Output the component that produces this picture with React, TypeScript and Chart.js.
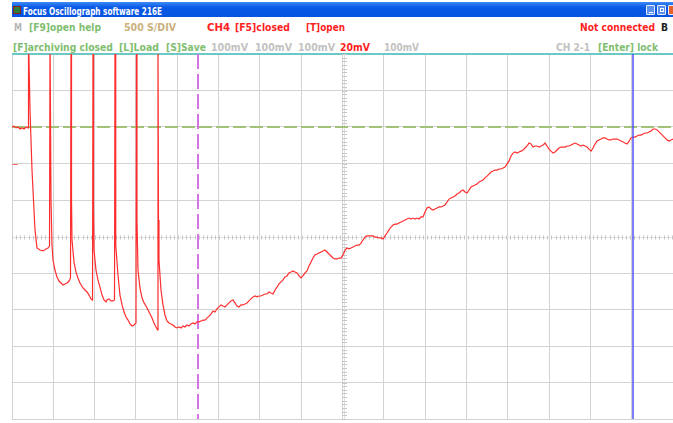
import { useEffect, useRef } from "react";
import { Chart, registerables } from "chart.js";

Chart.register(...registerables);

// ---- scope settings ----
const SAMPLES_PER_DIV = 500; // "500 S/DIV"
const MV_PER_DIV = 20; // "20mV"
const X_MAX = 7964; // visible part of the 16-div record
const Y_MIN = -100;
const Y_MAX = 100;

// ---- trace: burst of spikes (sample index, mV) ----
const burstX = [
  0, 24, 48, 72, 96, 120, 145, 169, 193,
  199, 217, 241, 277, 301, 337, 374, 410, 434, 452,
  458, 470, 482, 494, 518, 542, 566, 590, 615, 639, 663, 687, 705,
  711, 717, 723, 747, 771, 795, 819, 856, 880, 904, 928, 952, 970,
  976, 982, 988, 1012, 1036, 1060, 1085, 1109, 1133, 1145, 1169, 1193, 1217, 1235,
  1241, 1247, 1253, 1277, 1301, 1326, 1350, 1374, 1398, 1422, 1446, 1470, 1494,
  1500, 1506, 1518, 1542, 1567, 1591, 1615, 1639, 1663, 1687, 1711, 1735, 1753,
  1759, 1765, 1771,
];
const burstMv = [
  60.0, 60.5, 59.5, 60.0, 58.9, 59.5, 58.9, 60.0, 59.5,
  110, 69.3, 36.4, 3.6, -6.3, -7.4, -7.9, -6.8, -6.3, -5.2,
  110, 20.0, -4.7, -12.9, -18.4, -22.2, -24.4, -25.5, -26.6, -26.0, -25.5, -24.4, -22.7,
  110, 20.0, -1.9, -14.0, -19.5, -22.7, -25.5, -28.2, -29.3, -30.4, -32.1, -34.2, -34.8,
  110, 14.5, -7.4, -18.4, -23.8, -27.7, -32.1, -34.8, -35.9, -34.8, -34.2, -35.3, -35.3, -34.8,
  110, 14.5, -4.7, -21.1, -32.1, -37.5, -41.4, -44.1, -45.8, -47.9, -49.0, -48.5, -47.4,
  110, 9.0, -18.4, -28.2, -33.7, -36.4, -38.1, -40.3, -42.5, -44.7, -47.4, -49.6, -51.2,
  110, 9.0, -12.9,
];

// ---- trace: slow recovery, uniformly sampled ----
const RAMP_START = 1795;
const RAMP_STEP = 24.1;
const rampMv = [
  -29.3, -37.5, -43.0, -46.3, -47.4, -47.9, -48.5, -49.6, -50.1, -49.6,
  -50.1, -49.0, -49.6, -48.5, -49.0, -47.9, -47.4, -47.9, -46.8, -46.8,
  -46.3, -45.8, -45.8, -44.7, -43.6, -42.5, -40.8, -41.4, -39.7, -38.6,
  -37.5, -38.1, -38.6, -37.5, -36.4, -35.3, -34.8, -36.4, -38.1, -38.6,
  -37.5, -37.5, -37.0, -36.4, -35.3, -34.2, -33.1, -32.6, -33.1, -32.6,
  -32.6, -32.1, -31.5, -31.5, -30.4, -31.0, -31.5, -29.3, -27.7, -26.0,
  -24.9, -23.8, -22.2, -21.6, -20.0, -19.5, -18.9, -19.5, -20.0, -21.6,
  -22.7, -21.6, -20.0, -18.9, -16.2, -14.0, -11.8, -10.1, -9.6, -9.0,
  -8.5, -7.9, -7.4, -8.5, -9.6, -10.7, -11.8, -12.3, -12.3, -11.8,
  -11.8, -10.1, -7.4, -6.3, -6.8, -6.3, -5.8, -5.2, -4.7, -4.7,
  -3.6, -1.9, -0.3, 0.3, 0.3, 0.3, 0.3, -0.3, -0.3, -0.8,
  -0.8, -1.4, 0.3, 1.9, 3.6, 5.2, 6.3, 6.8, 6.8, 7.4,
  7.9, 8.5, 9.0, 9.6, 10.1, 9.6, 10.1, 9.6, 10.1, 9.6,
  10.7, 10.7, 13.4, 15.6, 16.2, 15.1, 14.5, 15.1, 15.6, 16.2,
  16.2, 16.7, 17.3, 18.9, 20.5, 21.1, 21.6, 22.2, 23.3, 23.8,
  24.9, 25.5, 24.4, 23.8, 25.5, 27.1, 27.7, 28.2, 28.8, 29.9,
  30.4, 31.0, 32.1, 33.1, 34.2, 35.3, 35.9, 36.4, 36.4, 37.0,
  37.0, 37.5, 38.1, 39.7, 41.4, 44.1, 45.7, 46.3, 45.7, 46.3,
  46.8, 47.4, 48.5, 49.6, 51.2, 50.7, 49.0, 49.6, 49.6, 49.0,
  49.6, 50.1, 51.2, 49.6, 47.9, 46.8, 45.7, 46.3, 47.4, 48.5,
  49.0, 49.0, 49.0, 49.6, 49.6, 50.1, 50.7, 51.2, 50.7, 50.1,
  49.6, 50.1, 49.6, 49.0, 47.9, 46.8, 48.5, 50.7, 52.3, 52.9,
  53.4, 54.0, 54.0, 53.4, 52.9, 52.9, 53.4, 53.4, 53.4, 52.9,
  52.3, 51.8, 51.2, 50.7, 52.3, 54.0, 54.5, 54.5, 55.1, 55.6,
  55.6, 56.2, 56.7, 56.7, 57.3, 57.8, 58.9, 58.9, 58.4, 57.3,
  56.2, 55.1, 54.0, 52.9, 52.3, 52.9, 53.4,
];

// ---- markers ----
const TRIGGER_MV = 60;
const CH_MARKER_MV = 40;
const CURSOR_A = 2241;
const CURSOR_B = 7482;

// ---- texts ----
const TITLE = "Focus Oscillograph software 216E";
const row1Labels = ["M", "[F9]open help", "500 S/DIV", "CH4", "[F5]closed", "[T]open", "Not connected", "B"];
const row2Labels = ["[F]archiving closed", "[L]Load", "[S]Save", "100mV", "100mV", "100mV", "20mV", "100mV", "CH 2-1", "[Enter] lock"];

const GREEN = "#7fbe70";
const TAN = "#c9b17a";
const RED = "#ff1e1e";
const GRAY = "#c2c2c2";

// layout: [x, targetWidth, color]
const row1Layout: [number, number, string][] = [
  [14, 8, "#b5b5b5"], [29, 72, GREEN], [124, 52, TAN], [207, 23, RED],
  [235, 55, RED], [306, 39, RED], [580, 75, RED], [661, 7, "#202020"],
];
const row2Layout: [number, number, string][] = [
  [13, 100, GREEN], [119, 40, GREEN], [166, 40, GREEN], [211, 37, GRAY],
  [255, 37, GRAY], [298, 37, GRAY], [340, 30, RED], [384, 35, GRAY],
  [556, 34, GRAY], [598, 60, GREEN],
];

let measureCtx: CanvasRenderingContext2D | null = null;
function measure(text: string, font: string) {
  if (!measureCtx) measureCtx = document.createElement("canvas").getContext("2d");
  measureCtx!.font = font;
  return measureCtx!.measureText(text).width;
}

function FitText(props: { text: string; x: number; baseline: number; width: number; size: number; color: string; weight?: string }) {
  const { text, x, baseline, width, size, color } = props;
  const weight = props.weight ?? "bold";
  const family = '"DejaVu Sans", "Liberation Sans", Arial, sans-serif';
  const font = `${weight} ${size}px ${family}`;
  const natural = measure(text, font) || width;
  const sx = width / natural;
  return (
    <span
      style={{
        position: "absolute",
        left: x,
        top: baseline - 0.846 * size,
        font,
        lineHeight: `${size}px`,
        whiteSpace: "nowrap",
        color,
        transform: `scaleX(${sx})`,
        transformOrigin: "left top",
      }}
    >
      {text}
    </span>
  );
}

export default function App() {
  const canvasRef = useRef<HTMLCanvasElement | null>(null);

  useEffect(() => {
    const canvas = canvasRef.current;
    if (!canvas) return;

    const points: { x: number; y: number }[] = [];
    burstX.forEach((x, i) => points.push({ x, y: burstMv[i] }));
    rampMv.forEach((y, i) => points.push({ x: RAMP_START + i * RAMP_STEP, y }));

    const overlay = {
      id: "scopeOverlay",
      beforeDatasetsDraw(chart: any) {
        const { ctx, chartArea: a, scales } = chart;
        const xs = scales.x;
        const ys = scales.y;
        ctx.save();
        const cy = Math.round(ys.getPixelForValue(0)) + 0.5;
        const cx = Math.round(xs.getPixelForValue(SAMPLES_PER_DIV * 8)) + 0.5;
        ctx.lineWidth = 1;
        ctx.strokeStyle = "#e2e2e2";
        ctx.beginPath();
        ctx.moveTo(a.left, cy);
        ctx.lineTo(a.right, cy);
        ctx.moveTo(cx, a.top);
        ctx.lineTo(cx, a.bottom);
        ctx.stroke();
        ctx.strokeStyle = "#c6c6c6";
        ctx.beginPath();
        for (let v = 0; v <= X_MAX; v += SAMPLES_PER_DIV / 10) {
          const px = Math.round(xs.getPixelForValue(v)) + 0.5;
          ctx.moveTo(px, cy - 2);
          ctx.lineTo(px, cy + 2);
        }
        for (let v = Y_MIN; v <= Y_MAX; v += MV_PER_DIV / 10) {
          const py = Math.round(ys.getPixelForValue(v)) + 0.5;
          ctx.moveTo(cx - 2.5, py);
          ctx.lineTo(cx + 2.5, py);
        }
        ctx.stroke();

        // trigger level
        const ty = ys.getPixelForValue(TRIGGER_MV);
        ctx.strokeStyle = "#a2c277";
        ctx.lineWidth = 2;
        ctx.setLineDash([13, 4]);
        ctx.beginPath();
        ctx.moveTo(a.left, ty);
        ctx.lineTo(a.right, ty);
        ctx.stroke();

        // cursor A
        const ax = xs.getPixelForValue(CURSOR_A);
        ctx.strokeStyle = "#d374e4";
        ctx.setLineDash([15, 5]);
        ctx.beginPath();
        ctx.moveTo(ax, a.top);
        ctx.lineTo(ax, a.bottom);
        ctx.stroke();
        ctx.setLineDash([]);

        // channel marker
        const my = Math.round(ys.getPixelForValue(CH_MARKER_MV)) + 0.5;
        ctx.strokeStyle = "#ff6a6a";
        ctx.lineWidth = 1;
        ctx.beginPath();
        ctx.moveTo(a.left, my);
        ctx.lineTo(a.left + 6, my);
        ctx.stroke();
        ctx.restore();
      },
      afterDatasetsDraw(chart: any) {
        const { ctx, chartArea: a, scales } = chart;
        const bx = scales.x.getPixelForValue(CURSOR_B);
        ctx.save();
        ctx.strokeStyle = "#4848ff";
        ctx.lineWidth = 1.4;
        ctx.beginPath();
        ctx.moveTo(bx, a.top);
        ctx.lineTo(bx, a.bottom);
        ctx.stroke();
        ctx.restore();
      },
    };

    const chart = new Chart(canvas, {
      type: "line",
      data: {
        datasets: [
          {
            data: points,
            borderColor: "#ff2e2e",
            borderWidth: 1.2,
            pointRadius: 0,
            tension: 0,
            fill: false,
          },
        ],
      },
      options: {
        animation: false,
        responsive: false,
        devicePixelRatio: 1,
        events: [],
        layout: { padding: { left: 12, top: 54, right: 0, bottom: 4 } },
        plugins: { legend: { display: false }, tooltip: { enabled: false }, title: { display: false } },
        scales: {
          x: {
            type: "linear",
            min: 0,
            max: X_MAX,
            ticks: { display: false, stepSize: SAMPLES_PER_DIV, includeBounds: false },
            border: { display: false },
            grid: {
              drawTicks: false,
              lineWidth: 1,
              color: (c: any) => (c.tick && c.tick.value === SAMPLES_PER_DIV * 8 ? "rgba(0,0,0,0)" : "#d3d3d3"),
            },
          },
          y: {
            type: "linear",
            min: Y_MIN,
            max: Y_MAX,
            ticks: { display: false, stepSize: MV_PER_DIV },
            border: { display: false },
            grid: {
              drawTicks: false,
              lineWidth: (c: any) => (c.tick && c.tick.value === Y_MAX ? 2 : 1),
              color: (c: any) => {
                const v = c.tick ? c.tick.value : null;
                if (v === 0) return "rgba(0,0,0,0)";
                if (v === Y_MAX) return "#6cc8c8";
                return "#d3d3d3";
              },
            },
          },
        },
      },
      plugins: [overlay],
    } as any);

    return () => chart.destroy();
  }, []);

  const btn = (left: number, bg: string, glyph: any) => (
    <div
      style={{
        position: "absolute",
        left,
        top: 5,
        width: 9,
        height: 10,
        background: bg,
        border: "1px solid #e8f0ff",
        boxSizing: "border-box",
        borderRadius: 1,
      }}
    >
      {glyph}
    </div>
  );

  return (
    <div style={{ position: "fixed", left: 0, top: 0, width: 673, height: 423, background: "#fff", overflow: "hidden" }}>
      {/* title bar */}
      <div
        style={{
          position: "absolute",
          left: 12,
          top: 2,
          width: 661,
          height: 15,
          background: "linear-gradient(#3d8af5 0%, #0a5ae6 35%, #0653e0 100%)",
        }}
      />
      <div style={{ position: "absolute", left: 13, top: 6, width: 8, height: 8, background: "#2f7d3a", border: "1px solid #8a2020", boxSizing: "border-box" }} />
      <FitText text={TITLE} x={23} baseline={14.5} width={139} size={10.5} color="#ffffff" />
      {btn(646, "#5b8ff0", <div style={{ position: "absolute", left: 2, top: 6, width: 4, height: 1, background: "#fff" }} />)}
      {btn(657, "#5b8ff0", <div style={{ position: "absolute", left: 2, top: 2, width: 4, height: 4, border: "1px solid #fff", boxSizing: "border-box" }} />)}
      {btn(668, "#e2612f", null)}

      {row1Labels.map((t, i) => (
        <FitText key={"r1" + i} text={t} x={row1Layout[i][0]} baseline={31} width={row1Layout[i][1]} size={11} color={row1Layout[i][2]} />
      ))}
      {row2Labels.map((t, i) => (
        <FitText key={"r2" + i} text={t} x={row2Layout[i][0]} baseline={51.5} width={row2Layout[i][1]} size={11} color={row2Layout[i][2]} />
      ))}

      <canvas ref={canvasRef} width={673} height={423} style={{ position: "absolute", left: 0, top: 0 }} />
    </div>
  );
}
